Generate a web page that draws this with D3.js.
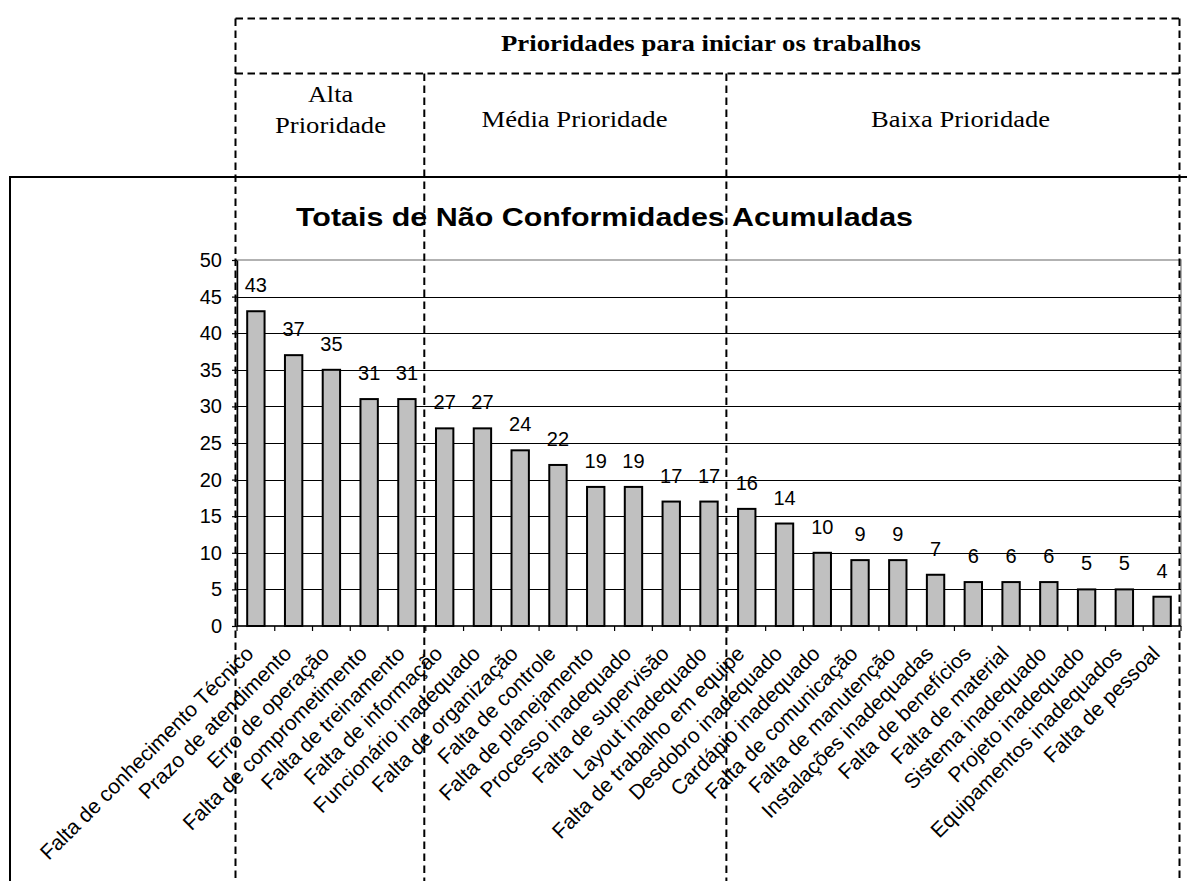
<!DOCTYPE html>
<html>
<head>
<meta charset="utf-8">
<script src="https://cdn.jsdelivr.net/npm/d3@7"></script>
<style>
  html, body { margin: 0; padding: 0; background: #fff; }
  svg { display: block; }
</style>
</head>
<body>
<svg id="chart" width="1187" height="881"></svg>
<script>
// Non-conformity categories, ordered from most to least frequent
const categories = [
  "Falta de conhecimento Técnico",
  "Prazo de atendimento",
  "Erro de operação",
  "Falta de comprometimento",
  "Falta de treinamento",
  "Falta de informação",
  "Funcionário inadequado",
  "Falta de organização",
  "Falta de controle",
  "Falta de planejamento",
  "Processo inadequado",
  "Falta de supervisão",
  "Layout inadequado",
  "Falta de trabalho em equipe",
  "Desdobro inadequado",
  "Cardápio inadequado",
  "Falta de comunicação",
  "Falta de manutenção",
  "Instalações inadequadas",
  "Falta de benefícios",
  "Falta de material",
  "Sistema inadequado",
  "Projeto inadequado",
  "Equipamentos inadequados",
  "Falta de pessoal"
];

// Accumulated totals per category
const values = [43, 37, 35, 31, 31, 27, 27, 24, 22, 19, 19, 17, 17, 16, 14, 10, 9, 9, 7, 6, 6, 6, 5, 5, 4];

const yTicks = [0, 5, 10, 15, 20, 25, 30, 35, 40, 45, 50];

// Priority bands and how many categories each one covers
const groupNames = [["Alta", "Prioridade"], ["Média Prioridade"], ["Baixa Prioridade"]];
const groupSizes = [5, 8, 12];

const headerTitle = "Prioridades para iniciar os trabalhos";
const chartTitle = "Totais de Não Conformidades Acumuladas";

const SANS = "'Liberation Sans', Arial, sans-serif";
const SERIF = "'Liberation Serif', 'Times New Roman', serif";

const svg = d3.select("#chart");

// Outer chart frame (open to the right and bottom)
svg.append("path")
  .attr("d", "M10,881 V177 H1187")
  .attr("fill", "none")
  .attr("stroke", "#000")
  .attr("stroke-width", 2);

const plot = { left: 237, right: 1181, top: 260, bottom: 626 };

const x = d3.scaleBand()
  .domain(categories)
  .range([plot.left, plot.right])
  .paddingInner(0.54)
  .paddingOuter(0.27);

const y = d3.scaleLinear()
  .domain([0, 50])
  .range([plot.bottom, plot.top]);

// Plot area border
svg.append("rect")
  .attr("x", plot.left)
  .attr("y", y(50))
  .attr("width", plot.right - plot.left)
  .attr("height", y(0) - y(50))
  .attr("fill", "#fff")
  .attr("stroke", "#999")
  .attr("stroke-width", 1.5);

// Horizontal gridlines
svg.append("g")
  .selectAll("line")
  .data(yTicks.filter(t => t > 0 && t < 50))
  .join("line")
  .attr("x1", plot.left)
  .attr("x2", plot.right)
  .attr("y1", d => Math.round(y(d)) + 0.5)
  .attr("y2", d => Math.round(y(d)) + 0.5)
  .attr("stroke", "#000")
  .attr("stroke-width", 1);

// Bars
svg.append("g")
  .selectAll("rect")
  .data(categories.map((c, i) => ({ c, v: values[i] })))
  .join("rect")
  .attr("x", d => x(d.c))
  .attr("y", d => y(d.v))
  .attr("width", x.bandwidth())
  .attr("height", d => y(0) - y(d.v))
  .attr("fill", "#c0c0c0")
  .attr("stroke", "#000")
  .attr("stroke-width", 2);

// Value labels above each bar
svg.append("g")
  .selectAll("text")
  .data(categories.map((c, i) => ({ c, v: values[i] })))
  .join("text")
  .attr("x", d => x(d.c) + x.bandwidth() / 2)
  .attr("y", d => y(d.v) - 19)
  .attr("text-anchor", "middle")
  .attr("font-family", SANS)
  .attr("font-size", 20)
  .attr("fill", "#000")
  .text(d => d.v);

// Y axis
const yAxis = svg.append("g")
  .attr("transform", `translate(${plot.left},0)`)
  .call(d3.axisLeft(y).tickValues(yTicks).tickSize(5).tickSizeOuter(0).tickPadding(10));
yAxis.select(".domain").attr("stroke", "#000").attr("stroke-width", 1.5);
yAxis.selectAll(".tick line").attr("stroke", "#000").attr("stroke-width", 1.2);
yAxis.selectAll(".tick text")
  .attr("font-family", SANS)
  .attr("font-size", 20)
  .attr("fill", "#000");

// X axis line and tick marks between categories
const boundaries = d3.range(categories.length + 1).map(i => plot.left + i * x.step());
svg.append("line")
  .attr("x1", plot.left)
  .attr("x2", plot.right)
  .attr("y1", y(0))
  .attr("y2", y(0))
  .attr("stroke", "#000")
  .attr("stroke-width", 1.5);
svg.append("g")
  .selectAll("line")
  .data(boundaries)
  .join("line")
  .attr("x1", d => d)
  .attr("x2", d => d)
  .attr("y1", y(0))
  .attr("y2", y(0) + 5)
  .attr("stroke", "#000")
  .attr("stroke-width", 1.2);

// Rotated category labels
svg.append("g")
  .selectAll("text")
  .data(categories)
  .join("text")
  .attr("transform", d => `translate(${x(d) + x.bandwidth() / 2 - 1},${y(0) + 29}) rotate(-45)`)
  .attr("text-anchor", "end")
  .attr("font-family", SANS)
  .attr("font-size", 21)
  .attr("fill", "#000")
  .text(d => d);

// Chart title
svg.append("text")
  .attr("x", 604.5)
  .attr("y", 226)
  .attr("text-anchor", "middle")
  .attr("font-family", SANS)
  .attr("font-weight", "bold")
  .attr("font-size", 26)
  .attr("textLength", 617)
  .attr("lengthAdjust", "spacingAndGlyphs")
  .attr("fill", "#000")
  .text(chartTitle);

// Priority overlay: dashed grid on top of the chart
const dash = "7.5,4.5";
const splitX = [0, ...d3.cumsum(groupSizes)].map(n => plot.left + n * x.step() - 1.5);
const rowTop = 18.5, rowMid = 73.5, rowEnd = 881;
const overlay = svg.append("g")
  .attr("fill", "none")
  .attr("stroke", "#000")
  .attr("stroke-width", 2)
  .attr("stroke-dasharray", dash);

overlay.selectAll("line.h")
  .data([rowTop, rowMid])
  .join("line")
  .attr("class", "h")
  .attr("x1", splitX[0])
  .attr("x2", splitX[splitX.length - 1])
  .attr("y1", d => d)
  .attr("y2", d => d);

overlay.selectAll("line.v")
  .data(splitX)
  .join("line")
  .attr("class", "v")
  .attr("x1", d => d)
  .attr("x2", d => d)
  .attr("y1", (d, i) => (i === 0 || i === splitX.length - 1) ? rowTop : rowMid)
  .attr("y2", rowEnd);

// Header text
svg.append("text")
  .attr("x", 711)
  .attr("y", 50.5)
  .attr("text-anchor", "middle")
  .attr("font-family", SERIF)
  .attr("font-weight", "bold")
  .attr("font-size", 24)
  .attr("textLength", 420)
  .attr("lengthAdjust", "spacingAndGlyphs")
  .attr("fill", "#000")
  .text(headerTitle);

// Priority band names
const bandText = [
  { lines: groupNames[0], cx: 330.5, ys: [102, 133], widths: [45, 111] },
  { lines: groupNames[1], cx: 574.5, ys: [127], widths: [186] },
  { lines: groupNames[2], cx: 960.5, ys: [127], widths: [179] }
];
bandText.forEach(b => {
  b.lines.forEach((t, i) => {
    svg.append("text")
      .attr("x", b.cx)
      .attr("y", b.ys[i])
      .attr("text-anchor", "middle")
      .attr("font-family", SERIF)
      .attr("font-size", 24)
      .attr("textLength", b.widths[i])
      .attr("lengthAdjust", "spacingAndGlyphs")
      .attr("fill", "#000")
      .text(t);
  });
});
</script>
</body>
</html>
